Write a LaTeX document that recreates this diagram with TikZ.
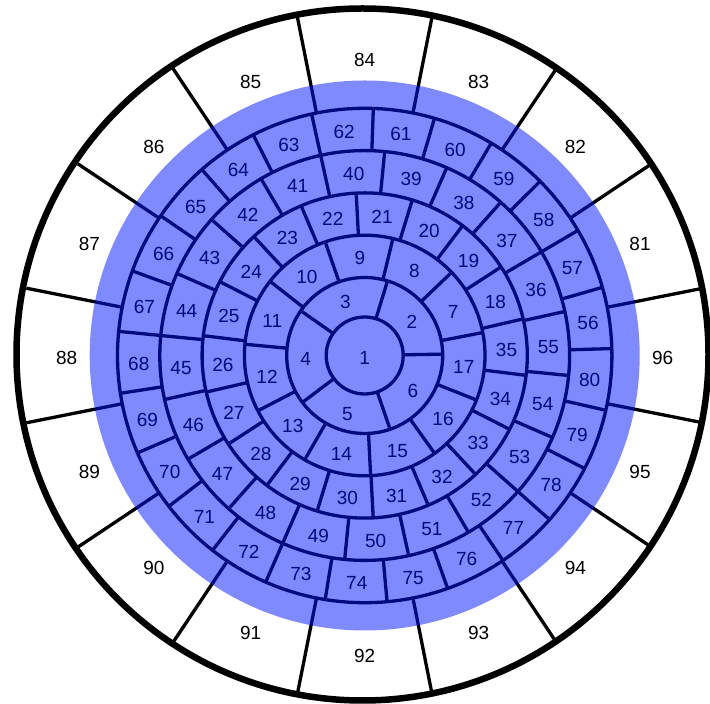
\documentclass[tikz,border=0pt]{standalone}
\usepackage{fontspec}
\setmainfont{Liberation Sans}
\definecolor{overlayblue}{RGB}{0,21,255}
\begin{document}
\begin{tikzpicture}[x=1pt,y=1pt,
  ringline/.style={line width=3.3pt},
  spokeline/.style={line width=3.3pt},
  outerline/.style={line width=6.5pt},
  lbl/.style={font=\fontsize{19}{19}\selectfont, inner sep=0pt, yshift=-2pt},
  bluedisk/.style={fill=overlayblue, fill opacity=0.5}]
\useasboundingbox (0,0) rectangle (710,704);
\clip (0,0) rectangle (710,704);
\coordinate (C) at (364.7,348.5);
\coordinate (O) at (362.5,349.5);
% outer circle
\draw[outerline] (O) circle[radius=346];
% ring circles
\foreach \r in {38.5,78,120.3,162.6,204.9,247.2}
  \draw[ringline] (C) circle[radius=\r];
% spokes: inner radius / outer radius / count / offset angle
\foreach \rin/\rout/\n/\o in {38.5/78/5/1, 78/120.3/11/11, 120.3/162.6/18/13,
    162.6/204.9/20/12.4, 204.9/247.2/25/1.6, 247.2/345/16/11.25}
  \foreach \i in {1,...,\n}
    \draw[spokeline] (C) ++({\o+(\i-1)*360/\n}:\rin) coordinate (s) (C) ++({\o+(\i-1)*360/\n}:\rout) coordinate (e) (s) -- (e);
% labels: first number / count / offset / radius
\node[lbl] (L1) at (C) {1};
\foreach \first/\n/\o/\r in {2/5/1/59, 7/11/11/99.5, 18/18/13/142,
    36/20/12.4/184, 56/25/1.6/226, 81/16/11.25/298}
  \foreach \i in {1,...,\n}{
    \pgfmathtruncatemacro\lab{\first+\i-1}
    \path (C) ++({\o+(\i-0.5)*360/\n}:\r) node[lbl] (L\lab) {\lab};
  }
% translucent blue disk on top
\fill[bluedisk] (C) circle[radius=275];
\end{tikzpicture}
\end{document}
